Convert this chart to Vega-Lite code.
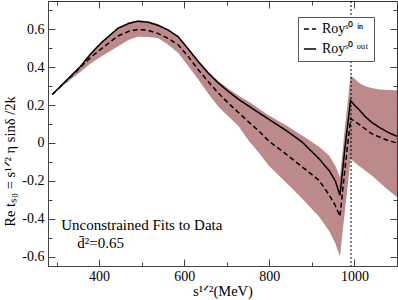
{
  "$schema": "https://vega.github.io/schema/vega-lite/v6.json",
  "width": 349,
  "height": 265,
  "autosize": {"type": "none"},
  "padding": {"left": 48, "top": 1, "right": 1, "bottom": 34},
  "background": "white",
  "config": {
    "font": "Liberation Serif",
    "view": {"stroke": "#333", "strokeWidth": 1},
    "axis": {
      "labelFont": "Liberation Serif", "labelFontSize": 14, "labelColor": "#000",
      "titleFont": "Liberation Serif", "titleFontSize": 14.5, "titleFontWeight": "normal", "titleColor": "#000",
      "tickColor": "#444", "domainColor": "#444", "grid": false
    },
    "legend": {"labelFont": "Liberation Serif"},
    "text": {"font": "Liberation Serif"}
  },
  "data": {"values": [
    {"x": 290, "out": 0.256, "in": 0.256, "lo": 0.256, "hi": 0.256},
    {"x": 320, "out": 0.323, "in": 0.322, "lo": 0.312, "hi": 0.326},
    {"x": 356, "out": 0.404, "in": 0.398, "lo": 0.375, "hi": 0.407},
    {"x": 380, "out": 0.47, "in": 0.452, "lo": 0.42, "hi": 0.473},
    {"x": 404, "out": 0.527, "in": 0.495, "lo": 0.455, "hi": 0.531},
    {"x": 444, "out": 0.605, "in": 0.565, "lo": 0.51, "hi": 0.61},
    {"x": 470, "out": 0.632, "in": 0.59, "lo": 0.545, "hi": 0.637},
    {"x": 491, "out": 0.643, "in": 0.6, "lo": 0.561, "hi": 0.648},
    {"x": 515, "out": 0.638, "in": 0.595, "lo": 0.56, "hi": 0.643},
    {"x": 538, "out": 0.622, "in": 0.579, "lo": 0.554, "hi": 0.628},
    {"x": 562, "out": 0.597, "in": 0.553, "lo": 0.52, "hi": 0.6},
    {"x": 586, "out": 0.561, "in": 0.518, "lo": 0.475, "hi": 0.565},
    {"x": 610, "out": 0.495, "in": 0.455, "lo": 0.405, "hi": 0.5},
    {"x": 633, "out": 0.43, "in": 0.387, "lo": 0.335, "hi": 0.437},
    {"x": 656, "out": 0.37, "in": 0.325, "lo": 0.262, "hi": 0.379},
    {"x": 680, "out": 0.317, "in": 0.264, "lo": 0.193, "hi": 0.328},
    {"x": 704, "out": 0.272, "in": 0.21, "lo": 0.14, "hi": 0.287},
    {"x": 728, "out": 0.23, "in": 0.16, "lo": 0.088, "hi": 0.25},
    {"x": 752, "out": 0.194, "in": 0.11, "lo": 0.01, "hi": 0.218},
    {"x": 775, "out": 0.16, "in": 0.064, "lo": -0.05, "hi": 0.182},
    {"x": 799, "out": 0.125, "in": 0.01, "lo": -0.12, "hi": 0.145},
    {"x": 840, "out": 0.065, "in": -0.06, "lo": -0.21, "hi": 0.092},
    {"x": 877, "out": 0.005, "in": -0.126, "lo": -0.294, "hi": 0.04},
    {"x": 917, "out": -0.084, "in": -0.198, "lo": -0.39, "hi": -0.02},
    {"x": 941, "out": -0.147, "in": -0.276, "lo": -0.467, "hi": -0.067},
    {"x": 955, "out": -0.2, "in": -0.33, "lo": -0.53, "hi": -0.12},
    {"x": 966, "out": -0.276, "in": -0.388, "lo": -0.6, "hi": -0.18},
    {"x": 978, "out": -0.02, "in": -0.13, "lo": -0.35, "hi": 0.09},
    {"x": 991, "out": 0.225, "in": 0.128, "lo": -0.085, "hi": 0.357},
    {"x": 1000, "out": 0.2, "in": 0.115, "lo": -0.1, "hi": 0.34},
    {"x": 1010, "out": 0.178, "in": 0.1, "lo": -0.12, "hi": 0.32},
    {"x": 1025, "out": 0.14, "in": 0.075, "lo": -0.145, "hi": 0.3},
    {"x": 1040, "out": 0.11, "in": 0.05, "lo": -0.17, "hi": 0.29},
    {"x": 1060, "out": 0.08, "in": 0.03, "lo": -0.21, "hi": 0.283},
    {"x": 1080, "out": 0.055, "in": 0.012, "lo": -0.25, "hi": 0.28},
    {"x": 1100, "out": 0.035, "in": 0.0, "lo": -0.285, "hi": 0.278}
  ]},
  "resolve": {"axis": {"x": "independent", "y": "independent"}},
  "layer": [
    {
      "mark": {"type": "area", "color": "#bc8a8a", "opacity": 1},
      "encoding": {
        "x": {"field": "x", "type": "quantitative",
          "scale": {"domain": [280, 1100], "nice": false, "zero": false},
          "axis": {"orient": "bottom", "title": "s¹ᐟ²(MeV)", "format": "d",
            "values": [300, 400, 500, 600, 700, 800, 900, 1000, 1100],
            "labelExpr": "datum.value % 200 == 0 ? datum.label : ''",
            "tickSize": {"condition": {"test": "datum.value % 200 == 0", "value": -7}, "value": -4},
            "labelPadding": 10, "titlePadding": 1}},
        "y": {"field": "lo", "type": "quantitative",
          "scale": {"domain": [-0.65, 0.75], "nice": false, "zero": false},
          "axis": {"orient": "left", "title": "Re tₛ₀ = s¹ᐟ² η sinδ /2k", "titleY": 160,
            "values": [-0.6, -0.5, -0.4, -0.3, -0.2, -0.1, 0, 0.1, 0.2, 0.3, 0.4, 0.5, 0.6, 0.7],
            "labelExpr": "abs(round(datum.value*10)) % 2 == 0 ? '' + datum.value : ''",
            "tickSize": {"condition": {"test": "abs(round(datum.value*10)) % 2 == 0", "value": -7}, "value": -4},
            "labelPadding": 11, "titlePadding": 4}},
        "y2": {"field": "hi"}
      }
    },
    {
      "transform": [{"fold": ["in", "out"], "as": ["series", "val"]}],
      "mark": {"type": "line", "color": "#000", "strokeWidth": 1.5},
      "encoding": {
        "x": {"field": "x", "type": "quantitative",
          "axis": {"orient": "top", "title": null, "labels": false, "domain": false,
            "values": [300, 400, 500, 600, 700, 800, 900, 1000, 1100],
            "tickSize": {"condition": {"test": "datum.value % 200 == 0", "value": -7}, "value": -4}}},
        "y": {"field": "val", "type": "quantitative",
          "axis": {"orient": "right", "title": null, "labels": false, "domain": false,
            "values": [-0.6, -0.5, -0.4, -0.3, -0.2, -0.1, 0, 0.1, 0.2, 0.3, 0.4, 0.5, 0.6, 0.7],
            "tickSize": {"condition": {"test": "abs(round(datum.value*10)) % 2 == 0", "value": -7}, "value": -4}}},
        "strokeDash": {"field": "series", "type": "nominal",
          "scale": {"domain": ["in", "out"], "range": [[5, 3], [1, 0]]},
          "legend": {"orient": "none", "legendX": 250, "legendY": 16, "title": null,
            "labelExpr": "datum.label == 'in' ? 'Royˢ⁰ ⁱⁿ' : 'Royˢ⁰ ᵒᵘᵗ'",
            "labelFont": "Liberation Serif", "labelFontSize": 14, "labelColor": "#000", "labelOffset": 5,
            "symbolType": "stroke", "symbolSize": 150, "symbolStrokeWidth": 1.5, "symbolStrokeColor": "#000",
            "strokeColor": "#555", "fillColor": "white", "padding": 5, "rowPadding": 6}}
      }
    },
    {
      "data": {"values": [{}]},
      "mark": {"type": "rule", "color": "#000", "strokeWidth": 1, "strokeDash": [2, 2]},
      "encoding": {"x": {"datum": 992, "type": "quantitative", "axis": null}}
    },
    {
      "data": {"values": [{"label": "Unconstrained Fits to Data"}]},
      "mark": {"type": "text", "font": "Liberation Serif", "fontSize": 15, "align": "left", "baseline": "middle", "color": "#000"},
      "encoding": {
        "x": {"datum": 311, "type": "quantitative", "axis": null},
        "y": {"datum": -0.435, "type": "quantitative", "axis": null},
        "text": {"field": "label"}
      }
    },
    {
      "data": {"values": [{"label": "d̄²=0.65"}]},
      "mark": {"type": "text", "font": "Liberation Serif", "fontSize": 15, "align": "left", "baseline": "middle", "color": "#000"},
      "encoding": {
        "x": {"datum": 349, "type": "quantitative", "axis": null},
        "y": {"datum": -0.529, "type": "quantitative", "axis": null},
        "text": {"field": "label"}
      }
    }
  ]
}
